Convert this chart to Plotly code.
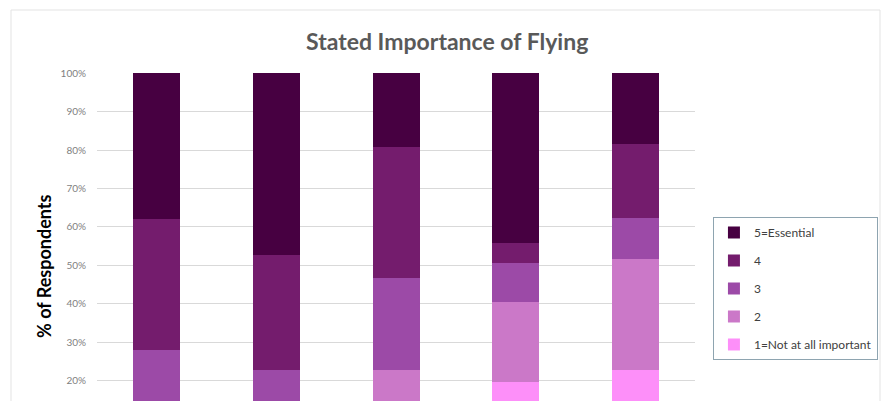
import plotly.graph_objects as go

# Respondent groups (x categories)
groups = ["Group 1", "Group 2", "Group 3", "Group 4", "Group 5"]

# Share of respondents (%) at each importance level, per group
level_1 = [4.2, 3.9, 8.6, 19.7, 22.9]
level_2 = [8.4, 7.6, 14.3, 20.7, 28.7]
level_3 = [15.5, 11.4, 23.8, 10.2, 10.7]
level_4 = [34.0, 29.8, 34.0, 5.3, 19.2]
level_5 = [37.9, 47.3, 19.3, 44.1, 18.5]

level_names = ["1=Not at all important", "2", "3", "4", "5=Essential"]
level_values = [level_1, level_2, level_3, level_4, level_5]
level_colors = ["#fd8ff9", "#cb78c8", "#9c4aa7", "#741c6d", "#470041"]

y_ticks = list(range(0, 101, 10))
y_tick_labels = [f"{v}%" for v in y_ticks]

fig = go.Figure()
for i, (name, vals, col) in enumerate(zip(level_names, level_values, level_colors)):
    fig.add_trace(go.Bar(
        x=groups, y=vals, name=name, legendgroup=name,
        legendrank=1000 - i,  # highest level listed first
        marker=dict(color=col, line=dict(width=0)),
    ))

fig.update_layout(
    barmode="stack",
    bargap=0.607,
    width=882, height=401,
    margin=dict(l=97, r=187, t=73, b=0),
    paper_bgcolor="white",
    plot_bgcolor="white",
    font=dict(family="Lato, Open Sans, sans-serif", color="#404040"),
    title=dict(
        text="<b>Stated Importance of Flying</b>",
        x=0.507, xanchor="center", y=1 - 42 / 401, yanchor="middle",
        font=dict(size=23, color="#595959"),
    ),
    showlegend=True,
    legend=dict(
        x=1.03, xanchor="left", y=0.561, yanchor="top",
        bgcolor="white", bordercolor="#8ea4b0", borderwidth=1,
        font=dict(size=12, color="#404040"),
        traceorder="grouped", tracegroupgap=9,
        itemwidth=30,
    ),
    xaxis=dict(showticklabels=False, showgrid=False, zeroline=False,
               showline=False, ticks=""),
    yaxis=dict(
        range=[14.8, 100], tickvals=y_ticks, ticktext=y_tick_labels,
        showgrid=True, gridcolor="#d9d9d9", gridwidth=1,
        zeroline=False, showline=False,
        tickfont=dict(size=10, color="#7f7f7f"),
        ticklabelstandoff=10,
    ),
)

# y-axis title
fig.add_annotation(
    text="<b>% of Respondents</b>", textangle=-90,
    xref="paper", yref="paper", x=(44 - 97) / 598, y=(401 - 267) / 328,
    xanchor="center", yanchor="middle", showarrow=False,
    font=dict(size=18, color="#000000"),
)

# chart frame
fig.add_shape(
    type="rect", xref="paper", yref="paper",
    x0=(11 - 97) / 598, x1=(880 - 97) / 598,
    y0=-0.05, y1=(401 - 10) / 328,
    line=dict(color="#e3e3e3", width=1), layer="below",
)

fig.write_html("out.html")
